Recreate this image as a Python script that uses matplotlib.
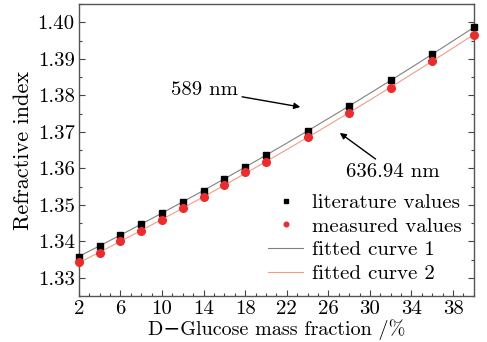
import numpy as np
import matplotlib
matplotlib.use("Agg")
import matplotlib.pyplot as plt
from matplotlib.ticker import MultipleLocator, FixedLocator

# Data
x = [2, 4, 6, 8, 10, 12, 14, 16, 18, 20, 24, 28, 32, 36, 40]
literature = [1.3358, 1.3387, 1.3418, 1.3448, 1.3477, 1.3508, 1.3539, 1.3570,
              1.3604, 1.3636, 1.3702, 1.3771, 1.3841, 1.3913, 1.3986]
measured = [1.3343, 1.3369, 1.3400, 1.3428, 1.3459, 1.3491, 1.3522, 1.3553,
            1.3589, 1.3618, 1.3685, 1.3752, 1.3821, 1.3895, 1.3966]
xticklabels = ["2", "6", "10", "14", "18", "22", "26", "30", "34", "38"]
yticks = [1.33, 1.34, 1.35, 1.36, 1.37, 1.38, 1.39, 1.40]

plt.rcParams['font.family'] = ['cmr10', 'DejaVu Serif']
plt.rcParams['axes.formatter.use_mathtext'] = True
plt.rcParams['mathtext.fontset'] = 'cm'

fig = plt.figure(figsize=(4.87, 3.42), dpi=100)
ax = fig.add_axes([0.162, 0.1345, 0.811, 0.8535])

xx = np.linspace(2, 40, 200)
c1 = np.polyfit(x, literature, 2)
c2 = np.polyfit(x, measured, 2)
ax.plot(xx, np.polyval(c1, xx), color='#808080', lw=0.8, label='fitted curve 1', zorder=2)
ax.plot(xx, np.polyval(c2, xx), color='#f49a86', lw=0.8, label='fitted curve 2', zorder=2)
ax.plot(x, literature, 's', color='black', ms=5, label='literature values', zorder=3, clip_on=False)
ax.plot(x, measured, 'o', color='#ee2a2a', ms=5.5, label='measured values', zorder=3, clip_on=False)

ax.set_xlim(2, 40)
ax.set_ylim(1.325, 1.405)

ax.xaxis.set_major_locator(FixedLocator([2, 6, 10, 14, 18, 22, 26, 30, 34, 38]))
ax.set_xticklabels(xticklabels)
ax.xaxis.set_minor_locator(MultipleLocator(1))
ax.set_yticks(yticks)
ax.set_yticklabels([f"{v:.2f}" for v in yticks])
ax.yaxis.set_minor_locator(MultipleLocator(0.005))

ax.tick_params(axis='both', which='major', direction='in', length=4, width=0.8,
               labelsize=15, colors='#444444', labelcolor='black', top=False, right=True)
ax.tick_params(axis='both', which='minor', direction='in', length=2.5, width=0.8,
               colors='#444444', top=False, right=True)
ax.tick_params(axis='x', pad=3)
ax.tick_params(axis='y', pad=3)
for s in ax.spines.values():
    s.set_color('#555555')
    s.set_linewidth(1.0)

ax.set_xlabel('D\u2212Glucose mass fraction /%', fontsize=14.5, labelpad=1)
ax.set_ylabel('Refractive index', fontsize=16, labelpad=3)

arrow = dict(arrowstyle='-|>', color='black', lw=1.0, mutation_scale=9, shrinkA=1, shrinkB=0)
ax.annotate('589 nm', xy=(23.3, 1.3768), xytext=(17.3, 1.3814), ha='right', va='center',
            fontsize=15, arrowprops=arrow)
ax.annotate('636.94 nm', xy=(27.1, 1.3697), xytext=(32.2, 1.3591), ha='center', va='center',
            fontsize=15, arrowprops=arrow)

handles, labels = ax.get_legend_handles_labels()
order = [2, 3, 0, 1]
ax.legend([handles[i] for i in order], [labels[i] for i in order], loc='lower right',
          frameon=False, fontsize=15, handlelength=1.7, handletextpad=0.4,
          labelspacing=0.25, borderaxespad=0.0, markerscale=0.6,
          bbox_to_anchor=(0.99, 0.015))

fig.savefig('out.png', dpi=100)
